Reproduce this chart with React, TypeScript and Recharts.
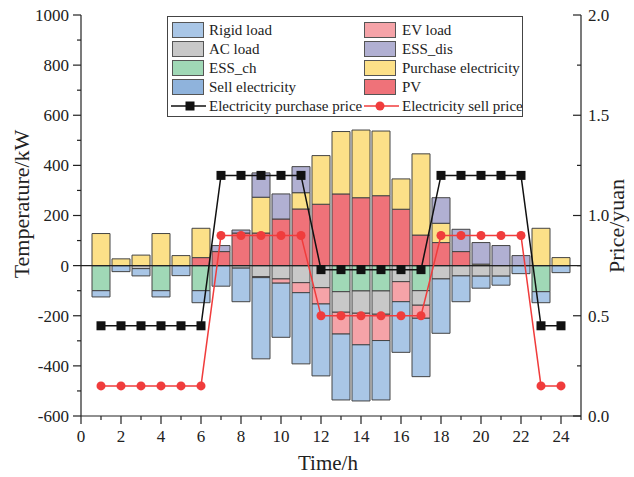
import React from 'react';
import { ComposedChart, Bar, Line, XAxis, YAxis, ReferenceLine } from 'recharts';

const FONT = '"Liberation Serif", "Times New Roman", serif';
const INK = '#222';

const hours = [1, 2, 3, 4, 5, 6, 7, 8, 9, 10, 11, 12, 13, 14, 15, 16, 17, 18, 19, 20, 21, 22, 23, 24];

// loads are drawn below zero, supply above zero (kW)
const rigidLoad = [-25, -24, -29, -25, -40, -48, -82, -134, -324, -216, -284, -287, -263, -224, -237, -202, -233, -217, -103, -48, -36, -32, -44, -28];
const evLoad = [0, 0, 0, 0, 0, 0, 0, 0, -4, -17, -40, -65, -87, -126, -105, -80, -52, 0, 0, 0, 0, 0, 0, 0];
const acLoad = [0, 0, -12, 0, 0, 0, 0, -10, -44, -53, -68, -88, -82, -89, -93, -64, -58, -53, -41, -42, -42, 0, 0, 0];
const essCh = [-100, 0, 0, -100, 0, -100, 0, 0, 0, 0, 0, 0, -104, -101, -101, 0, -100, 0, 0, 0, 0, 0, -104, 0];
const sellElec = [0, 0, 0, 0, 0, 0, 0, 0, 0, 0, 0, 0, 0, 0, 0, 0, 0, 0, 0, 0, 0, 0, 0, 0];
const pv = [0, 0, 0, 0, 0, 32, 56, 130, 130, 186, 226, 245, 286, 271, 279, 225, 122, 92, 56, 0, 0, 0, 0, 0];
const purchaseElec = [128, 27, 42, 128, 40, 117, 0, 0, 143, 0, 65, 194, 249, 270, 258, 121, 324, 77, 0, 6, 0, 0, 149, 32];
const essDis = [0, 0, 0, 0, 0, 0, 24, 12, 97, 100, 104, 0, 0, 0, 0, 0, 0, 102, 89, 86, 80, 40, 0, 0];

// yuan
const purchasePrice = [0.45, 0.45, 0.45, 0.45, 0.45, 0.45, 1.2, 1.2, 1.2, 1.2, 1.2, 0.73, 0.73, 0.73, 0.73, 0.73, 0.73, 1.2, 1.2, 1.2, 1.2, 1.2, 0.45, 0.45];
const sellPrice = [0.15, 0.15, 0.15, 0.15, 0.15, 0.15, 0.9, 0.9, 0.9, 0.9, 0.9, 0.5, 0.5, 0.5, 0.5, 0.5, 0.5, 0.9, 0.9, 0.9, 0.9, 0.9, 0.15, 0.15];

const xTicks = [0, 1, 2, 3, 4, 5, 6, 7, 8, 9, 10, 11, 12, 13, 14, 15, 16, 17, 18, 19, 20, 21, 22, 23, 24, 25];
const leftTicks = [-600, -500, -400, -300, -200, -100, 0, 100, 200, 300, 400, 500, 600, 700, 800, 900, 1000];
const rightTicks = [0, 0.25, 0.5, 0.75, 1, 1.25, 1.5, 1.75, 2];

const C = {
  rigid: '#a9c6e6',
  ev: '#f5a3a8',
  ac: '#c8c8c8',
  essDis: '#b1b0d2',
  essCh: '#a0d8b6',
  purchase: '#fce088',
  sell: '#8fb3dc',
  pv: '#ef7279',
  buyLine: '#111111',
  sellLine: '#f03c3c',
};

const data = hours.map((h, i) => ({
  hour: h,
  essCh: essCh[i],
  ac: acLoad[i],
  ev: evLoad[i],
  rigid: rigidLoad[i],
  sell: sellElec[i],
  pv: pv[i],
  purchase: purchaseElec[i],
  essDis: essDis[i],
  buyPrice: purchasePrice[i],
  sellPrice: sellPrice[i],
}));

const BottomTick = (props: any) => {
  const { x, y, payload } = props;
  const major = payload.value % 2 === 0;
  return (
    <g>
      <line x1={x} y1={y} x2={x} y2={y + (major ? 8 : 4)} stroke={INK} strokeWidth={1.2} />
      {major && payload.value <= 24 && (
        <text x={x} y={y + 26} textAnchor="middle" fontSize={17} fontFamily={FONT} fill={INK}>
          {payload.value}
        </text>
      )}
    </g>
  );
};

const TopTick = (props: any) => {
  const { x, y, payload } = props;
  const major = payload.value % 2 === 0;
  return <line x1={x} y1={y} x2={x} y2={y + (major ? 7 : 4)} stroke={INK} strokeWidth={1.2} />;
};

const LeftTick = (props: any) => {
  const { x, y, payload } = props;
  const major = payload.value % 200 === 0;
  return (
    <g>
      <line x1={x} y1={y} x2={x - (major ? 8 : 4)} y2={y} stroke={INK} strokeWidth={1.2} />
      {major && (
        <text x={x - 12} y={y} dy="0.35em" textAnchor="end" fontSize={17} fontFamily={FONT} fill={INK}>
          {payload.value}
        </text>
      )}
    </g>
  );
};

const RightTick = (props: any) => {
  const { x, y, payload } = props;
  const major = Math.round(payload.value * 100) % 50 === 0;
  return (
    <g>
      <line x1={x} y1={y} x2={x - (major ? 8 : 4)} y2={y} stroke={INK} strokeWidth={1.2} />
      {major && (
        <text x={x + 7} y={y} dy="0.35em" textAnchor="start" fontSize={17} fontFamily={FONT} fill={INK}>
          {payload.value.toFixed(1)}
        </text>
      )}
    </g>
  );
};

const SquareDot = (props: any) => {
  const { cx, cy } = props;
  return <rect x={cx - 4.5} y={cy - 4.5} width={9} height={9} fill={C.buyLine} />;
};

const legendLeft = [
  { name: 'Rigid load', color: C.rigid },
  { name: 'AC load', color: C.ac },
  { name: 'ESS_ch', color: C.essCh },
  { name: 'Sell electricity', color: C.sell },
];
const legendRight = [
  { name: 'EV load', color: C.ev },
  { name: 'ESS_dis', color: C.essDis },
  { name: 'Purchase electricity', color: C.purchase },
  { name: 'PV', color: C.pv },
];

const ChartLegend = () => {
  const swatch = (left: number, top: number, color: string) => (
    <div
      style={{
        position: 'absolute',
        left,
        top,
        width: 32,
        height: 16,
        background: color,
        border: '1px solid #555',
        boxSizing: 'border-box',
      }}
    />
  );
  const label = (left: number, center: number, text: string) => (
    <span style={{ position: 'absolute', left, top: center - 10, lineHeight: '20px', whiteSpace: 'nowrap' }}>{text}</span>
  );
  return (
    <div style={styles.legend}>
      {legendLeft.map((item, i) => (
        <React.Fragment key={item.name}>
          {swatch(4, 5 + 19 * i, item.color)}
          {label(41, 13 + 19 * i, item.name)}
        </React.Fragment>
      ))}
      {legendRight.map((item, i) => (
        <React.Fragment key={item.name}>
          {swatch(196, 5 + 19 * i, item.color)}
          {label(234, 13 + 19 * i, item.name)}
        </React.Fragment>
      ))}
      <svg style={{ position: 'absolute', left: 0, top: 80 }} width={356} height={18}>
        <line x1={3} y1={9} x2={38} y2={9} stroke={C.buyLine} strokeWidth={1.5} />
        <rect x={17.5} y={4.5} width={9} height={9} fill={C.buyLine} />
        <line x1={196} y1={9} x2={231} y2={9} stroke={C.sellLine} strokeWidth={1.5} />
        <circle cx={212} cy={9} r={4.5} fill={C.sellLine} />
      </svg>
      {label(41, 89, 'Electricity purchase price')}
      {label(234, 89, 'Electricity sell price')}
    </div>
  );
};

const barProps = {
  stackId: 'power',
  stroke: '#444',
  strokeWidth: 1,
  isAnimationActive: false,
};

export default function App() {
  return (
    <div style={styles.page}>
      <ComposedChart
        width={634}
        height={477}
        data={data}
        stackOffset="sign"
        barSize={20}
        barGap={0}
        margin={{ top: 15, right: 0, bottom: 0, left: 0 }}
      >
        <XAxis
          dataKey="hour"
          type="number"
          domain={[0, 25]}
          ticks={xTicks}
          interval={0}
          height={61}
          tickSize={0}
          tickMargin={0}
          tickLine={false}
          tick={<BottomTick />}
          axisLine={{ stroke: INK, strokeWidth: 1.2 }}
        />
        <XAxis
          xAxisId="top"
          orientation="top"
          dataKey="hour"
          type="number"
          domain={[0, 25]}
          ticks={xTicks}
          interval={0}
          height={0}
          tickSize={0}
          tickMargin={0}
          tickLine={false}
          tick={<TopTick />}
          axisLine={{ stroke: INK, strokeWidth: 1.2 }}
        />
        <YAxis
          type="number"
          domain={[-600, 1000]}
          ticks={leftTicks}
          interval={0}
          width={81}
          tickSize={0}
          tickMargin={0}
          tickLine={false}
          tick={<LeftTick />}
          axisLine={{ stroke: INK, strokeWidth: 1.2 }}
        />
        <YAxis
          yAxisId="price"
          orientation="right"
          type="number"
          domain={[0, 2]}
          ticks={rightTicks}
          interval={0}
          width={53}
          tickSize={0}
          tickMargin={0}
          tickLine={false}
          tick={<RightTick />}
          axisLine={{ stroke: INK, strokeWidth: 1.2 }}
        />

        {/* below zero, stacked downward from the axis */}
        <Bar dataKey="essCh" name="ESS_ch" fill={C.essCh} {...barProps} />
        <Bar dataKey="ac" name="AC load" fill={C.ac} {...barProps} />
        <Bar dataKey="ev" name="EV load" fill={C.ev} {...barProps} />
        <Bar dataKey="rigid" name="Rigid load" fill={C.rigid} {...barProps} />
        <Bar dataKey="sell" name="Sell electricity" fill={C.sell} {...barProps} />
        {/* above zero */}
        <Bar dataKey="pv" name="PV" fill={C.pv} {...barProps} />
        <Bar dataKey="purchase" name="Purchase electricity" fill={C.purchase} {...barProps} />
        <Bar dataKey="essDis" name="ESS_dis" fill={C.essDis} {...barProps} />

        <ReferenceLine y={0} stroke={INK} strokeWidth={1.2} />

        <Line
          yAxisId="price"
          dataKey="buyPrice"
          name="Electricity purchase price"
          type="linear"
          stroke={C.buyLine}
          strokeWidth={1.5}
          dot={<SquareDot />}
          activeDot={false}
          isAnimationActive={false}
        />
        <Line
          yAxisId="price"
          dataKey="sellPrice"
          name="Electricity sell price"
          type="linear"
          stroke={C.sellLine}
          strokeWidth={1.5}
          dot={{ r: 4.5, fill: C.sellLine, stroke: C.sellLine, strokeWidth: 0 }}
          activeDot={false}
          isAnimationActive={false}
        />
      </ComposedChart>

      <svg style={{ position: 'absolute', left: 0, top: 0, pointerEvents: 'none' }} width={634} height={477}>
        <text x={328} y={470} textAnchor="middle" fontSize={21} fontFamily={FONT} fill={INK}>
          Time/h
        </text>
        <text
          transform="translate(29 204) rotate(-90)"
          textAnchor="middle"
          fontSize={22}
          fontFamily={FONT}
          fill={INK}
        >
          Temperature/kW
        </text>
        <text
          transform="translate(624 226) rotate(-90)"
          textAnchor="middle"
          fontSize={22}
          fontFamily={FONT}
          fill={INK}
        >
          Price/yuan
        </text>
      </svg>

      <ChartLegend />
    </div>
  );
}

const styles: Record<string, React.CSSProperties> = {
  page: {
    position: 'absolute',
    left: 0,
    top: 0,
    width: 634,
    height: 477,
    background: '#fff',
  },
  legend: {
    position: 'absolute',
    left: 167,
    top: 16,
    width: 356,
    height: 101,
    border: '1px solid #444',
    boxSizing: 'border-box',
    background: '#fff',
    fontFamily: FONT,
    fontSize: 15,
    color: INK,
  },
};
